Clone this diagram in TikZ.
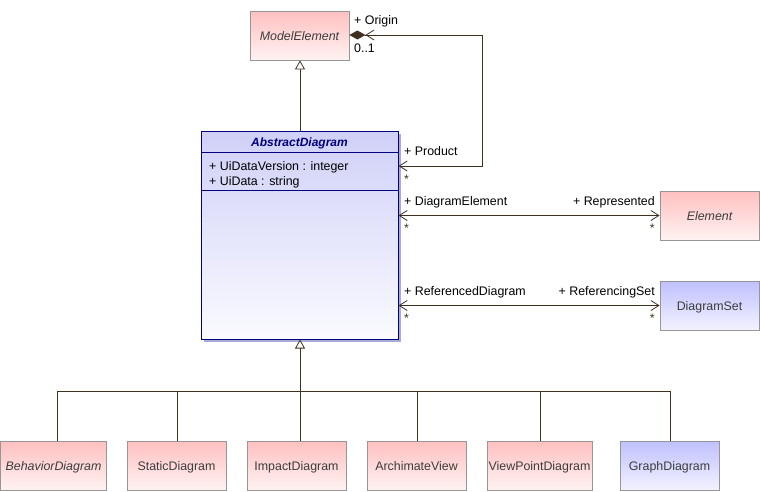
\documentclass[tikz,border=0pt]{standalone}
\usepackage{fontspec}
\setmainfont{Liberation Sans}
\usetikzlibrary{arrows.meta}
\definecolor{linec}{RGB}{64,48,32}
\definecolor{boxb}{RGB}{150,150,150}
\definecolor{txt}{RGB}{60,60,60}
\definecolor{pinkT}{RGB}{255,192,192}
\definecolor{pinkB}{RGB}{255,242,242}
\definecolor{blueT}{RGB}{192,192,255}
\definecolor{blueB}{RGB}{242,242,255}
\definecolor{absT}{RGB}{208,208,248}
\definecolor{absB}{RGB}{250,250,255}
\definecolor{navy}{RGB}{0,0,128}
\definecolor{shad}{RGB}{170,170,215}
\tikzset{
  x=1pt,y=-1pt,
  mybarb/.tip={Straight Barb[length=8pt,width=10pt,line width=0.8pt]},
  mydiam/.tip={Diamond[length=16pt,width=9pt,fill=linec,line width=0.8pt]},
  every node/.style={font=\fontsize{12.4}{14}\selectfont, text=txt, inner sep=0pt},
  cls/.style={draw=boxb, line width=0.8pt, minimum width=99pt, minimum height=49pt, text height=10pt, text depth=0pt},
  pinkbox/.style={cls, top color=pinkT, bottom color=pinkB},
  bluebox/.style={cls, top color=blueT, bottom color=blueB},
  conn/.style={draw=linec, line width=0.8pt},
  inh/.style={conn, -{Triangle[open,length=9pt,width=10pt,fill=white,line width=0.8pt]}},
  lbl/.style={text=black, anchor=base west},
  lblr/.style={text=black, anchor=base east},
  multstar/.style={text=linec, anchor=base west},
  multstarr/.style={text=linec, anchor=base east},
}
\begin{document}
\begin{tikzpicture}
\useasboundingbox (0,0) rectangle (760,491);
% ModelElement
\node[pinkbox, minimum width=99pt] (model) at (299.5,35.5) {\itshape ModelElement};
% AbstractDiagram
\fill[shad] (204,134) rectangle (401,342);
\node[draw=navy, line width=1pt, top color=absT, bottom color=absB, minimum width=197pt, minimum height=208pt] (abs) at (299.5,235) {};
\draw[navy, line width=0.8pt] (201,152) -- (398,152);
\draw[navy, line width=0.8pt] (201,190) -- (398,190);
\node[text=navy, font=\fontsize{12}{14}\selectfont\bfseries\itshape, anchor=base] (absname) at (299.5,146) {AbstractDiagram};
\node[anchor=base west, text=black] (attr1) at (209,170) {+ UiDataVersion : integer};
\node[anchor=base west, text=black] (attr2) at (209,185) {+ UiData : string};
% Element and DiagramSet
\node[pinkbox] (elem) at (709.5,215.5) {\itshape Element};
\node[bluebox] (dset) at (709.5,305.5) {DiagramSet};
% bottom classes
\node[pinkbox, minimum width=106pt] (beh) at (53.5,465.5) {\itshape BehaviorDiagram};
\node[pinkbox] (stat) at (176.5,465.5) {StaticDiagram};
\node[pinkbox] (imp) at (296.5,465.5) {ImpactDiagram};
\node[pinkbox] (arch) at (416.5,465.5) {ArchimateView};
\node[pinkbox, minimum width=105pt] (vp) at (539.5,465.5) {ViewPointDiagram};
\node[bluebox] (graph) at (669.5,465.5) {GraphDiagram};
% generalization ModelElement <- AbstractDiagram
\draw[inh] (abs.north -| 300,0) -- (model.south -| 300,0);
% composition Origin/Product
\coordinate (prodend) at (abs.east |- 0,166);
\coordinate (origend) at (model.east |- 0,35);
\draw[conn, {mybarb[]}-{mybarb[]mydiam[]}] (prodend) -- (482,166) -- (482,35) -- (origend);
\node[lbl] (origin) at (354,24.5) {+ Origin};
\node[lbl] (mult01) at (354,52) {0..1};
\node[lbl] (product) at (404,155) {+ Product};
\node[multstar] (s1) at (404,183) {*};
% DiagramElement / Represented
\draw[conn, {mybarb[]}-{mybarb[]}] (abs.east |- elem.west) -- (elem.west);
\node[lbl] (de) at (404,205) {+ DiagramElement};
\node[lblr] (rep) at (655,205) {+ Represented};
\node[multstar] (s2) at (404,232) {*};
\node[multstarr] (s3) at (655,232) {*};
% ReferencedDiagram / ReferencingSet
\draw[conn, {mybarb[]}-{mybarb[]}] (abs.east |- dset.west) -- (dset.west);
\node[lbl] (rd) at (404,295) {+ ReferencedDiagram};
\node[lblr] (rs) at (655,295) {+ ReferencingSet};
\node[multstar] (s4) at (404,322) {*};
\node[multstarr] (s5) at (655,322) {*};
% generalization tree
\coordinate (joint) at (300,391);
\draw[inh] (joint) -- (abs.south -| joint);
\draw[conn] (beh.north -| 57,0) |- (joint);
\draw[conn] (stat.north -| 177,0) |- (joint);
\draw[conn] (imp.north -| 300,0) -- (joint);
\draw[conn] (arch.north -| 417,0) |- (joint);
\draw[conn] (vp.north -| 540,0) |- (joint);
\draw[conn] (graph.north -| 670,0) |- (joint);
\end{tikzpicture}
\end{document}
